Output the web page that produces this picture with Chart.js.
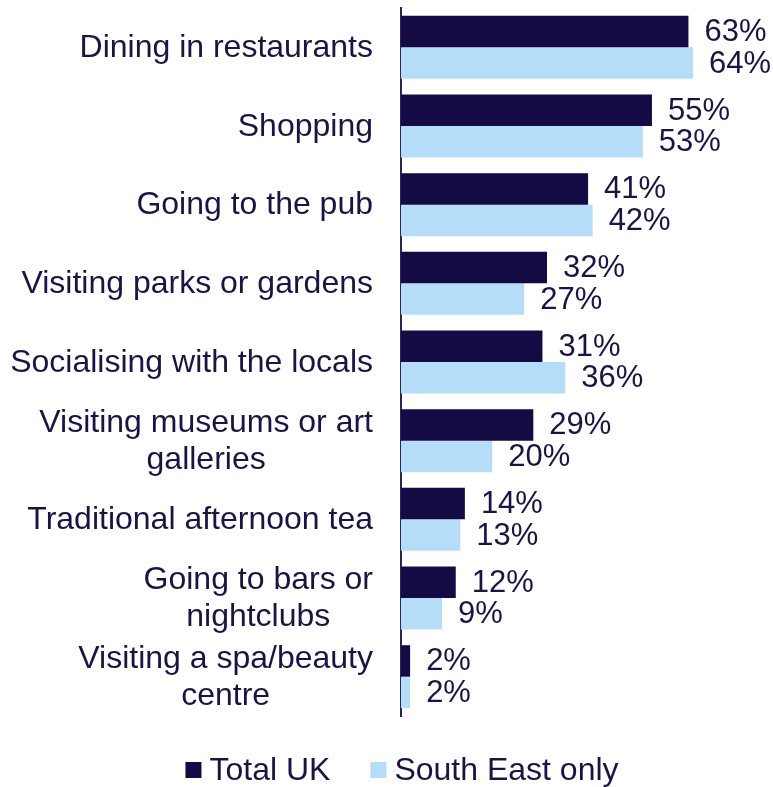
<!DOCTYPE html>
<html>
<head>
<meta charset="utf-8">
<script src="https://cdn.jsdelivr.net/npm/chart.js@4"></script>
<style>
  html, body { margin: 0; padding: 0; background: #ffffff; }
  #wrap { width: 773px; height: 787px; position: relative; }
</style>
</head>
<body>
<div id="wrap"><canvas id="chart" width="773" height="787"></canvas></div>
<script>
// Activities: share of respondents (%)
const categories = [
  ['Dining in restaurants'],
  ['Shopping'],
  ['Going to the pub'],
  ['Visiting parks or gardens'],
  ['Socialising with the locals'],
  ['Visiting museums or art', 'galleries'],
  ['Traditional afternoon tea'],
  ['Going to bars or', 'nightclubs'],
  ['Visiting a spa/beauty', 'centre']
];
const totalUK = [63, 55, 41, 32, 31, 29, 14, 12, 2];
const southEast = [64, 53, 42, 27, 36, 20, 13, 9, 2];
const seriesNames = ['Total UK', 'South East only'];

const FONT = '"Liberation Sans", Arial, sans-serif';
const TEXT = '#1b1442';
const DARK = '#140a44';
const LIGHT = '#b6ddf7';

// Category labels, right-aligned; wrapped lines centred on one another
const categoryLabels = {
  id: 'categoryLabels',
  afterDraw(chart) {
    const ctx = chart.ctx;
    const y = chart.scales.y;
    const rightX = 373;
    const lh = 37;
    ctx.save();
    ctx.font = '32px ' + FONT;
    ctx.fillStyle = TEXT;
    ctx.textBaseline = 'middle';
    ctx.textAlign = 'center';
    chart.data.labels.forEach((lines, i) => {
      const cy = y.getPixelForValue(i) + 1;
      const maxW = Math.max(...lines.map(l => ctx.measureText(l).width));
      const cx = rightX - maxW / 2;
      const y0 = cy - (lines.length - 1) * lh / 2;
      lines.forEach((l, k) => ctx.fillText(l, cx, y0 + k * lh));
    });
    ctx.restore();
  }
};

// Percentage labels at the end of every bar
const valueLabels = {
  id: 'valueLabels',
  afterDatasetsDraw(chart) {
    const ctx = chart.ctx;
    ctx.save();
    ctx.font = '31px ' + FONT;
    ctx.fillStyle = TEXT;
    ctx.textBaseline = 'middle';
    ctx.textAlign = 'left';
    chart.data.datasets.forEach((ds, di) => {
      chart.getDatasetMeta(di).data.forEach((bar, i) => {
        ctx.fillText(ds.data[i] + '%', bar.x + 16, bar.y + 1);
      });
    });
    ctx.restore();
  }
};

// Legend row under the plot
const bottomLegend = {
  id: 'bottomLegend',
  afterDraw(chart) {
    const ctx = chart.ctx;
    const box = 16, gapText = 8, gapItem = 40, cy = 770, centerX = 402;
    ctx.save();
    ctx.font = '32px ' + FONT;
    ctx.textBaseline = 'middle';
    ctx.textAlign = 'left';
    const items = chart.data.datasets.map(ds => ({
      text: ds.label, color: ds.backgroundColor, w: ctx.measureText(ds.label).width
    }));
    const total = items.reduce((s, it) => s + box + gapText + it.w, 0) + gapItem * (items.length - 1);
    let x = centerX - total / 2;
    items.forEach(it => {
      ctx.fillStyle = it.color;
      ctx.fillRect(x, cy - box / 2, box, box);
      ctx.fillStyle = TEXT;
      ctx.fillText(it.text, x + box + gapText, cy + 1);
      x += box + gapText + it.w + gapItem;
    });
    ctx.restore();
  }
};

new Chart(document.getElementById('chart'), {
  type: 'bar',
  data: {
    labels: categories,
    datasets: [
      { label: seriesNames[0], data: totalUK, backgroundColor: DARK, borderWidth: 0 },
      { label: seriesNames[1], data: southEast, backgroundColor: LIGHT, borderWidth: 0 }
    ]
  },
  options: {
    indexAxis: 'y',
    responsive: false,
    animation: false,
    devicePixelRatio: 1,
    layout: { padding: { left: 401, right: 7, top: 8, bottom: 71 } },
    datasets: { bar: { categoryPercentage: 0.8, barPercentage: 1.0 } },
    scales: {
      x: { display: false, min: 0, max: 80 },
      y: {
        display: true,
        ticks: { display: false },
        grid: { display: false, drawTicks: false },
        border: { display: true, color: '#2b2456', width: 2 }
      }
    },
    plugins: {
      legend: { display: false },
      tooltip: { enabled: false }
    }
  },
  plugins: [categoryLabels, valueLabels, bottomLegend]
});
</script>
</body>
</html>
